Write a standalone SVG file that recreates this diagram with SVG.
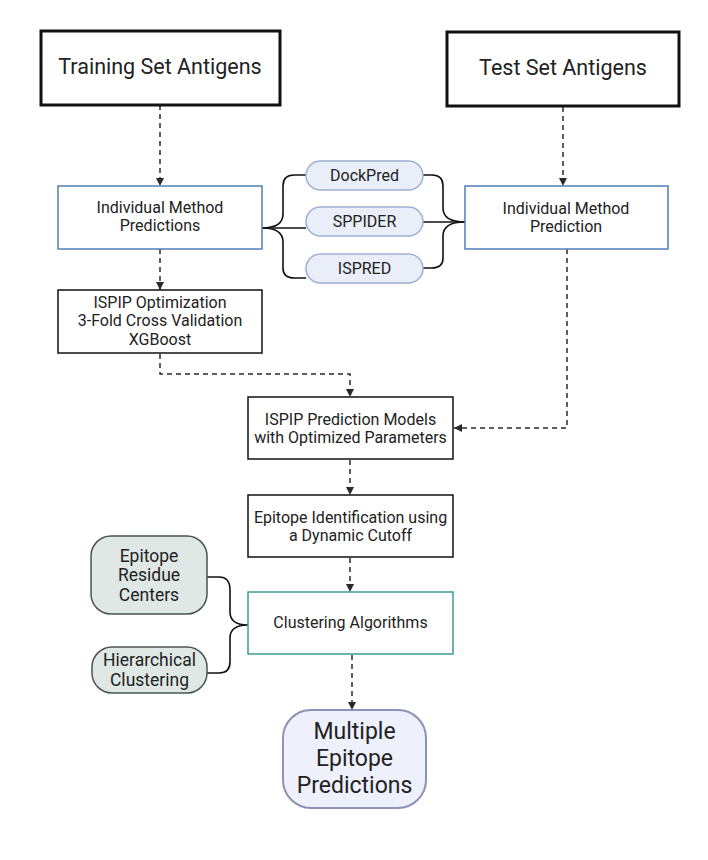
<svg xmlns="http://www.w3.org/2000/svg" width="708" height="860" viewBox="0 0 708 860">
<defs>
<marker id="ah" viewBox="0 0 10 10" refX="10" refY="5" markerWidth="8" markerHeight="8" markerUnits="userSpaceOnUse" orient="auto">
<path d="M0,0 L10,5 L0,10 Z" fill="#2a2a2a"/>
</marker>
</defs>
<style>
text{font-family:Roboto,"Liberation Sans",sans-serif;fill:#222;text-anchor:middle}
.big{font-size:21.5px}
.mid{font-size:16px}
.lg{font-size:17.5px}
.xl{font-size:23px}
.bold{fill:#fff;stroke:#111;stroke-width:3}
.blk{fill:#fff;stroke:#111;stroke-width:1.5}
.blue{fill:#fff;stroke:#4f7fb8;stroke-width:1.5}
.teal{fill:#fff;stroke:#3e9a98;stroke-width:1.5}
.pill{fill:#e9eef8;stroke:#9cb0d2;stroke-width:1.5}
.green{fill:#dfe8e5;stroke:#4a5450;stroke-width:1.5}
.final{fill:#eef0fb;stroke:#8c93b6;stroke-width:2}
.dash{fill:none;stroke:#2a2a2a;stroke-width:1.5;stroke-dasharray:5 4;marker-end:url(#ah)}
.brace{fill:none;stroke:#111;stroke-width:1.6}
</style>
<rect width="708" height="860" fill="#fff"/>
<g id="connectors">
<path class="dash" d="M160,105 V186"/>
<path class="dash" d="M563,107 V186"/>
<path class="dash" d="M160,249 V290"/>
<path class="dash" d="M160,354 V374 H350 V397"/>
<path class="dash" d="M567,249 V428 H454"/>
<path class="dash" d="M350,460 V495"/>
<path class="dash" d="M350,558 V592"/>
<path class="dash" d="M352,655 V710"/>
<path class="brace" d="M306,175 H294 Q283,175 283,186 V214 Q283,228 262,228 Q283,228 283,242 V268 Q283,278 294,278 H306"/>
<path class="brace" d="M306,228 H262"/>
<path class="brace" d="M423,175 H432 Q443,175 443,186 V208 Q443,222 465,222 Q443,222 443,236 V258 Q443,268 432,268 H423"/>
<path class="brace" d="M423,222 H465"/>
<path class="brace" d="M207,577 H219 Q230,577 230,590 V612 Q230,625 248,625 Q230,625 230,638 V662 Q230,673 219,673 H207"/>
</g>
<g id="training"><rect class="bold" x="41" y="31" width="239" height="74"/><text class="big" x="160" y="74">Training Set Antigens</text></g>
<g id="test"><rect class="bold" x="447" y="32" width="232" height="74"/><text class="big" x="563" y="75">Test Set Antigens</text></g>
<g id="imp-left"><rect class="blue" x="58" y="186" width="204" height="63"/><text class="mid" x="160" y="213">Individual Method</text><text class="mid" x="160" y="231">Predictions</text></g>
<g id="imp-right"><rect class="blue" x="465" y="186" width="203" height="63"/><text class="mid" x="566" y="214">Individual Method</text><text class="mid" x="566" y="232">Prediction</text></g>
<g id="dockpred"><rect class="pill" x="306" y="161" width="117" height="29" rx="14.5"/><text class="mid" x="364.5" y="181">DockPred</text></g>
<g id="sppider"><rect class="pill" x="306" y="207" width="117" height="29" rx="14.5"/><text class="mid" x="364.5" y="227">SPPIDER</text></g>
<g id="ispred"><rect class="pill" x="306" y="254" width="117" height="29" rx="14.5"/><text class="mid" x="364.5" y="274">ISPRED</text></g>
<g id="ispip-opt"><rect class="blk" x="58" y="290" width="204" height="63"/><text class="mid" x="160" y="308">ISPIP Optimization</text><text class="mid" x="160" y="326">3-Fold Cross Validation</text><text class="mid" x="160" y="345">XGBoost</text></g>
<g id="ispip-pred"><rect class="blk" x="248" y="397" width="205" height="62"/><text class="mid" x="350.5" y="425">ISPIP Prediction Models</text><text class="mid" x="350.5" y="443">with Optimized Parameters</text></g>
<g id="epitope-id"><rect class="blk" x="248" y="495" width="205" height="62"/><text class="mid" x="350.5" y="523">Epitope Identification using</text><text class="mid" x="350.5" y="541">a Dynamic Cutoff</text></g>
<g id="clustering"><rect class="teal" x="248" y="592" width="205" height="62"/><text class="mid" x="350.5" y="628">Clustering Algorithms</text></g>
<g id="residue-centers"><rect class="green" x="91" y="536" width="116" height="78" rx="20"/><text class="lg" x="149" y="562">Epitope</text><text class="lg" x="149" y="581">Residue</text><text class="lg" x="149" y="601">Centers</text></g>
<g id="hierarchical"><rect class="green" x="92" y="647" width="115" height="46" rx="20"/><text class="lg" x="149.5" y="666">Hierarchical</text><text class="lg" x="149.5" y="686">Clustering</text></g>
<g id="multiple"><rect class="final" x="283" y="710" width="143" height="98" rx="28"/><text class="xl" x="354.5" y="739">Multiple</text><text class="xl" x="354.5" y="766">Epitope</text><text class="xl" x="354.5" y="793">Predictions</text></g>
</svg>
